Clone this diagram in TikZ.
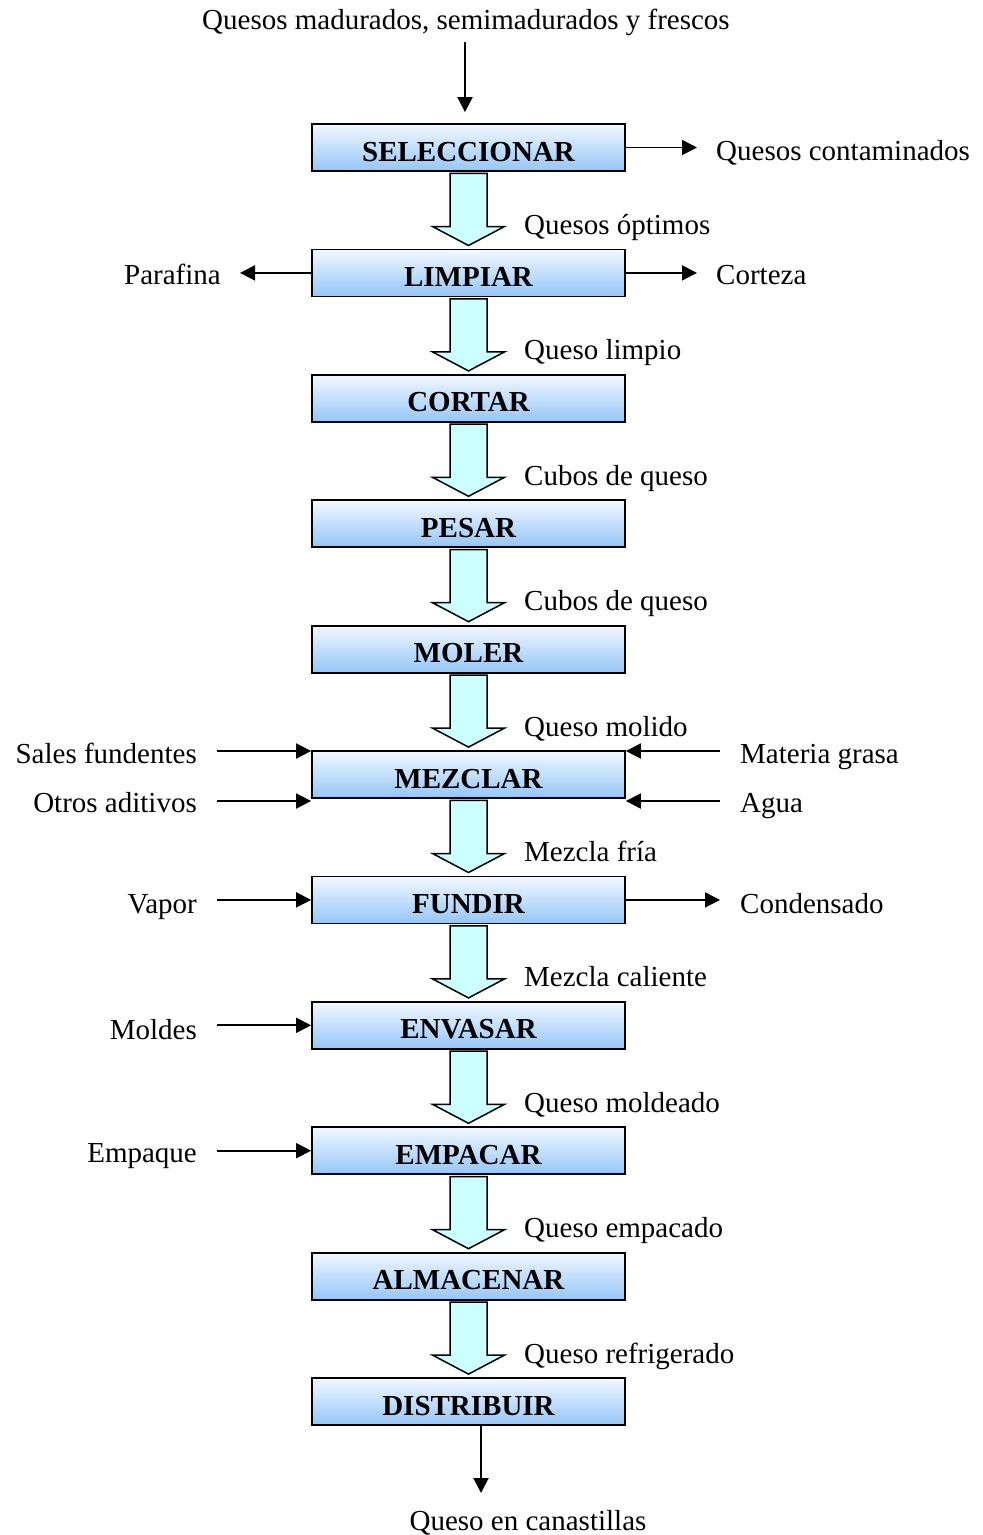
\documentclass[tikz,border=0pt]{standalone}
\usepackage{fontspec}
\setmainfont{Liberation Serif}
\usetikzlibrary{arrows.meta,calc}
\definecolor{boxtop}{HTML}{F2F8FF}
\definecolor{boxbot}{HTML}{94C6F8}
\definecolor{flow}{HTML}{CCFFFF}
\begin{document}
\begin{tikzpicture}[x=1pt,y=-1pt,
  stepbox/.style={draw=black,line width=1.8pt,top color=boxtop,bottom color=boxbot,
    minimum width=313pt,minimum height=47pt,inner sep=0pt,text height=27pt,text depth=0pt,
    font=\fontsize{29}{34}\selectfont\bfseries},
  lbl/.style={inner sep=0pt,font=\fontsize{29}{34}\selectfont},
  flowarrow/.style={draw=black,line width=1.5pt,fill=flow,line join=miter},
  arr/.style={line width=1.9pt,-{Triangle[length=15pt,width=15pt]}}]
\useasboundingbox (0,0) rectangle (983,1535);

% process steps
\foreach \txt [count=\i from 0] in {SELECCIONAR,LIMPIAR,CORTAR,PESAR,MOLER,MEZCLAR,FUNDIR,ENVASAR,EMPACAR,ALMACENAR,DISTRIBUIR}
  \node[stepbox] (s\i) at (468.5,{147.5+125.4*\i}) {\txt};

% block arrows between consecutive steps, with the product label
\foreach \txt [count=\i from 0] in {Quesos óptimos,Queso limpio,Cubos de queso,Cubos de queso,Queso molido,Mezcla fría,Mezcla caliente,Queso moldeado,Queso empacado,Queso refrigerado}{
  \pgfmathtruncatemacro\j{\i+1}
  \draw[flowarrow] ($(s\i.south)+(-18.5pt,-1.5pt)$) -- ($(s\j.north)+(-18.5pt,22pt)$)
    -- ($(s\j.north)+(-36pt,22pt)$) -- ($(s\j.north)+(0,3pt)$)
    -- ($(s\j.north)+(36pt,22pt)$) -- ($(s\j.north)+(18.5pt,22pt)$)
    -- ($(s\i.south)+(18.5pt,-1.5pt)$) -- cycle;
  \node[lbl,anchor=base west] (g\i) at (524,{124+125.4*\j-15}) {\txt};
}

% raw material in
\node[lbl,anchor=base] (in) at (466,29) {Quesos madurados, semimadurados y frescos};
\coordinate (inA) at (465,42);
\draw[arr,shorten >=11pt] (inA) -- (inA |- s0.north);

% SELECCIONAR
\node[lbl,anchor=base west] (qc) at (716,160) {Quesos contaminados};
\draw[arr,shorten >=19pt] (s0.east) -- (s0.east -| qc.west);

% LIMPIAR
\node[lbl,anchor=base east] (par) at (221,284) {Parafina};
\draw[arr,shorten >=19pt] (s1.west) -- (s1.west -| par.east);
\node[lbl,anchor=base west] (cor) at (716,284) {Corteza};
\draw[arr,shorten >=19pt] (s1.east) -- (s1.east -| cor.west);

% MEZCLAR
\node[lbl,anchor=base east] (sf) at (197,763) {Sales fundentes};
\node[lbl,anchor=base east] (oa) at (197,812) {Otros aditivos};
\node[lbl,anchor=base west] (mg) at (740,763) {Materia grasa};
\node[lbl,anchor=base west] (ag) at (740,812) {Agua};
\coordinate (sfA) at (217,751);
\coordinate (oaA) at (217,801);
\coordinate (mgA) at (720,751);
\coordinate (agA) at (720,801);
\draw[arr] (sfA) -- (sfA -| s5.west);
\draw[arr] (oaA) -- (oaA -| s5.west);
\draw[arr] (mgA) -- (mgA -| s5.east);
\draw[arr] (agA) -- (agA -| s5.east);

% FUNDIR
\node[lbl,anchor=base east] (va) at (197,913) {Vapor};
\node[lbl,anchor=base west] (cd) at (740,913) {Condensado};
\draw[arr,shorten <=20pt] (s6.west -| va.east) -- (s6.west);
\draw[arr,shorten >=20pt] (s6.east) -- (s6.east -| cd.west);

% ENVASAR
\node[lbl,anchor=base east] (mo) at (197,1039) {Moldes};
\draw[arr,shorten <=20pt] (s7.west -| mo.east) -- (s7.west);

% EMPACAR
\node[lbl,anchor=base east] (em) at (197,1162) {Empaque};
\draw[arr,shorten <=20pt] (s8.west -| em.east) -- (s8.west);

% product out
\coordinate (outA) at (481,1493);
\draw[arr] (s10.south -| outA) -- (outA);
\node[lbl,anchor=base] (out) at (528,1530) {Queso en canastillas};
\end{tikzpicture}
\end{document}
